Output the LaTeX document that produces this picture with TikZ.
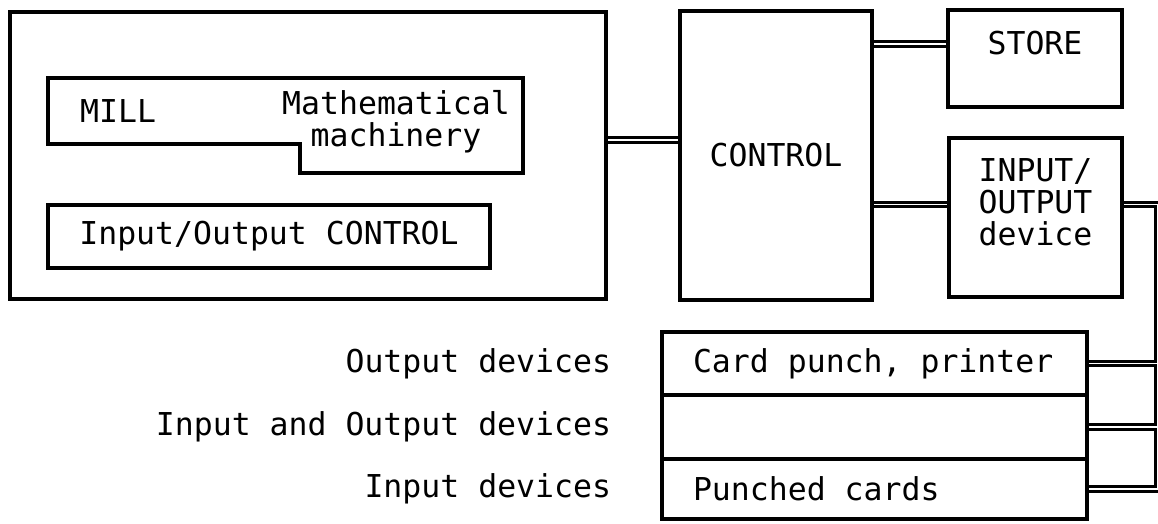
\documentclass[tikz,border=0pt]{standalone}
\usepackage{fontspec}
\newfontfamily\plotter{DejaVu Sans Mono}
\usetikzlibrary{positioning,backgrounds}

\newcommand\rowtext[1]{\makebox[363pt][l]{#1}}

\tikzset{
    box/.style={draw, rectangle, line width=3.5pt, inner sep=0pt},
    txt/.style={font=\plotter\fontsize{31.5}{32}\selectfont, inner sep=0pt},
    bus/.style={double, double distance=1.8pt, line width=3pt, line join=miter},
    cardrow/.style={box, txt, minimum width=425pt, inner xsep=31pt},
}

\begin{document}
\begin{tikzpicture}[x=1pt,y=-1pt]
    \useasboundingbox (0,0) rectangle (1158,523);

    % Mill and its i/o control
    \node[box, minimum width=596pt, minimum height=287pt] (frame) at (308,155.5) {};
    \draw[line width=3.5pt, line join=miter]
        (48,78) -- (523,78) -- (523,173) -- (300,173) -- (300,144) -- (48,144) -- cycle;
    \node[txt, anchor=west] (mill) at (80,111) {MILL};
    \node[txt, align=center] (math) at (396,122) {Mathematical\\machinery};
    \node[box, txt, minimum width=442pt, minimum height=63pt] (ioctl) at (269,236.5)
        {Input/Output CONTROL};

    % Control, store, i/o device
    \node[box, txt, minimum width=192pt, minimum height=289pt] (control) at (776,155.5) {CONTROL};
    \node[box, minimum width=174pt, minimum height=97pt] (store) at (1035,58.5) {};
    \node[txt] (storetext) at (1035,43) {STORE};
    \node[box, minimum width=173pt, minimum height=159pt] (iodev) at (1035.5,217.5) {};
    \node[txt, align=center] (iodevtext) at (1035.5,202) {INPUT/\\OUTPUT\\device};

    % Peripheral rows
    \node[cardrow, minimum height=63pt] (punch) at (874.5,363.5) {\rowtext{Card punch, printer}};
    \node[cardrow, minimum height=64pt] (inout) at (874.5,427) {\rowtext{}};
    \node[cardrow, minimum height=60pt] (punched) at (874.5,489) {\rowtext{Punched cards}};

    \node[txt, left=49pt of punch] (outlabel) {Output devices};
    \node[txt, left=49pt of inout] (iolabel) {Input and Output devices};
    \node[txt, left=49pt of punched] (inlabel) {Input devices};

    % Double-line buses
    \coordinate (frameOut) at ([yshift=15.5pt]frame.east);
    \coordinate (storeIn) at ([yshift=14.5pt]store.west);
    \coordinate (devIn) at ([yshift=13pt]iodev.west);
    \coordinate (devOut) at ([yshift=13pt]iodev.east);
    \coordinate (busx) at (1158,0);

    \begin{scope}[on background layer]
        \draw[bus] (frameOut) -- (frameOut -| control.west);
        \draw[bus] (storeIn -| control.east) -- (storeIn);
        \draw[bus] (devIn -| control.east) -- (devIn);
        \draw[bus] (devOut) -- (devOut -| busx) -- (punched.east -| busx) -- (punched.east)
            (punch.east) -- (punch.east -| busx)
            (inout.east) -- (inout.east -| busx);
    \end{scope}
\end{tikzpicture}
\end{document}
